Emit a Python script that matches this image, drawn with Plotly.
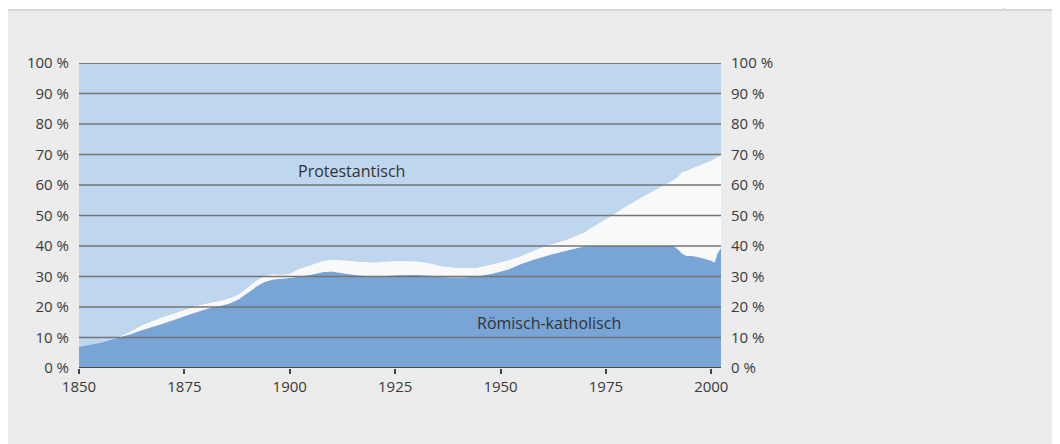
import plotly.graph_objects as go

# ---- data (percent of population) ----
years = [1850, 1855, 1859, 1862, 1865, 1870, 1875, 1878, 1881, 1884, 1886, 1888,
         1890, 1892, 1894, 1896, 1898, 1900, 1902, 1905, 1908, 1910, 1913, 1916,
         1920, 1925, 1930, 1933, 1936, 1940, 1944, 1948, 1952, 1955, 1958, 1962,
         1966, 1970, 1972, 1976, 1980, 1984, 1988, 1991, 1992, 1993, 1994, 1996,
         1998, 2000, 2000.8, 2001.5, 2002.3]

roman_catholic = [7.0, 8.3, 9.8, 11.0, 12.5, 14.6, 17.0, 18.4, 19.7, 20.5, 21.3, 22.6,
                  24.6, 26.6, 28.2, 29.0, 29.3, 29.5, 29.9, 30.6, 31.5, 31.6, 31.0, 30.4,
                  29.9, 30.4, 30.5, 30.3, 29.8, 29.7, 29.9, 30.9, 32.4, 34.2, 35.6, 37.2,
                  38.6, 39.9, 40.0, 40.0, 40.0, 40.0, 40.0, 40.0, 39.0, 37.6, 36.8, 36.6,
                  36.0, 35.2, 34.6, 37.7, 39.3]

other = [0.0, 0.0, 0.1, 0.8, 1.6, 2.2, 2.0, 2.0, 1.7, 1.7, 1.7, 1.7,
         1.8, 2.0, 2.0, 1.8, 1.3, 1.4, 2.5, 3.2, 3.7, 3.9, 4.3, 4.5,
         4.7, 4.7, 4.5, 4.1, 3.6, 3.1, 2.9, 3.1, 3.0, 2.6, 3.0, 3.4,
         3.6, 4.7, 6.4, 9.7, 13.2, 16.4, 19.4, 21.6, 23.6, 26.7, 27.8, 29.2,
         31.0, 32.8, 34.0, 31.5, 30.5]

protestant = [93.0, 91.7, 90.1, 88.2, 85.9, 83.2, 81.0, 79.6, 78.6, 77.8, 77.0, 75.7,
              73.6, 71.4, 69.8, 69.2, 69.4, 69.1, 67.6, 66.2, 64.8, 64.5, 64.7, 65.1,
              65.4, 64.9, 65.0, 65.6, 66.6, 67.2, 67.2, 66.0, 64.6, 63.2, 61.4, 59.4,
              57.8, 55.4, 53.6, 50.3, 46.8, 43.6, 40.6, 38.4, 37.4, 35.7, 35.4, 34.2,
              33.0, 32.0, 31.4, 30.8, 30.2]

x_ticks = [1850, 1875, 1900, 1925, 1950, 1975, 2000]
y_ticks = [0, 10, 20, 30, 40, 50, 60, 70, 80, 90, 100]
y_labels = [f"{v} %" for v in y_ticks]

C_CATH = "#79a4d6"
C_OTHER = "#f9f9f9"
C_PROT = "#bed6ee"
FONT = "Open Sans, Noto Sans, sans-serif"
TXT = "#3a3a3a"

fig = go.Figure()
fig.add_trace(go.Scatter(x=years, y=roman_catholic, stackgroup="a", mode="none",
                         fillcolor=C_CATH, name="Römisch-katholisch", hoverinfo="skip"))
fig.add_trace(go.Scatter(x=years, y=other, stackgroup="a", mode="none",
                         fillcolor=C_OTHER, name="Andere", hoverinfo="skip"))
fig.add_trace(go.Scatter(x=years, y=protestant, stackgroup="a", mode="none",
                         fillcolor=C_PROT, name="Protestantisch", hoverinfo="skip"))
# invisible trace to anchor the right axis
fig.add_trace(go.Scatter(x=[years[0]], y=[0], yaxis="y2", mode="markers",
                         marker=dict(opacity=0), hoverinfo="skip", showlegend=False))

shapes = []
# white strip above the grey panel
shapes.append(dict(type="rect", xref="paper", yref="paper", x0=-0.2, x1=1.7,
                   y0=1.1738, y1=1.3, fillcolor="white", line=dict(width=0), layer="below"))
shapes.append(dict(type="line", xref="paper", yref="paper", x0=-0.2, x1=1.7,
                   y0=1.1738, y1=1.1738, line=dict(color="#d6d6d6", width=2), layer="below"))
shapes.append(dict(type="line", xref="paper", yref="paper", x0=1.4412, x1=1.4412,
                   y0=1.1738, y1=1.3, line=dict(color="#d0d0d0", width=1.5), layer="below"))
# horizontal gridlines drawn over the areas
for v in y_ticks[1:]:
    shapes.append(dict(type="line", xref="paper", yref="y", x0=0, x1=1, y0=v, y1=v,
                       line=dict(color="#747474" if v < 100 else "#5f5f5f",
                                 width=1.5), layer="above"))
# bottom axis line
shapes.append(dict(type="line", xref="paper", yref="y", x0=0, x1=1, y0=0, y1=0,
                   line=dict(color="#4a4a4a", width=2), layer="above"))

fig.update_layout(
    width=1052, height=436,
    margin=dict(l=71, r=338.5, t=55, b=76, pad=0),
    paper_bgcolor="#ececec", plot_bgcolor=C_PROT,
    showlegend=False,
    font=dict(family=FONT, size=15, color=TXT),
    xaxis=dict(range=[1850, 2002.3], tickvals=x_ticks, ticktext=[str(t) for t in x_ticks],
               showgrid=False, zeroline=False, showline=False,
               ticks="outside", ticklen=5, tickwidth=1.5, tickcolor="#444",
               ticklabelstandoff=0,
               tickfont=dict(size=15, color=TXT, family=FONT)),
    yaxis=dict(range=[0, 100], tickvals=y_ticks, ticktext=y_labels,
               showgrid=False, zeroline=False, showline=False, ticks="",
               ticklabelstandoff=9, tickfont=dict(size=15, color=TXT, family=FONT)),
    yaxis2=dict(range=[0, 100], tickvals=y_ticks, ticktext=y_labels, overlaying="y",
                side="right", showgrid=False, zeroline=False, showline=False, ticks="",
                ticklabelstandoff=9, tickfont=dict(size=15, color=TXT, family=FONT)),
    shapes=shapes,
    annotations=[
        dict(x=1914.7, y=64.6, xref="x", yref="y", text="Protestantisch", showarrow=False,
             font=dict(size=16, color="#333", family=FONT)),
        dict(x=1961.4, y=14.8, xref="x", yref="y", text="Römisch-katholisch", showarrow=False,
             font=dict(size=16, color="#333", family=FONT)),
    ],
)

fig.write_html("out.html")
